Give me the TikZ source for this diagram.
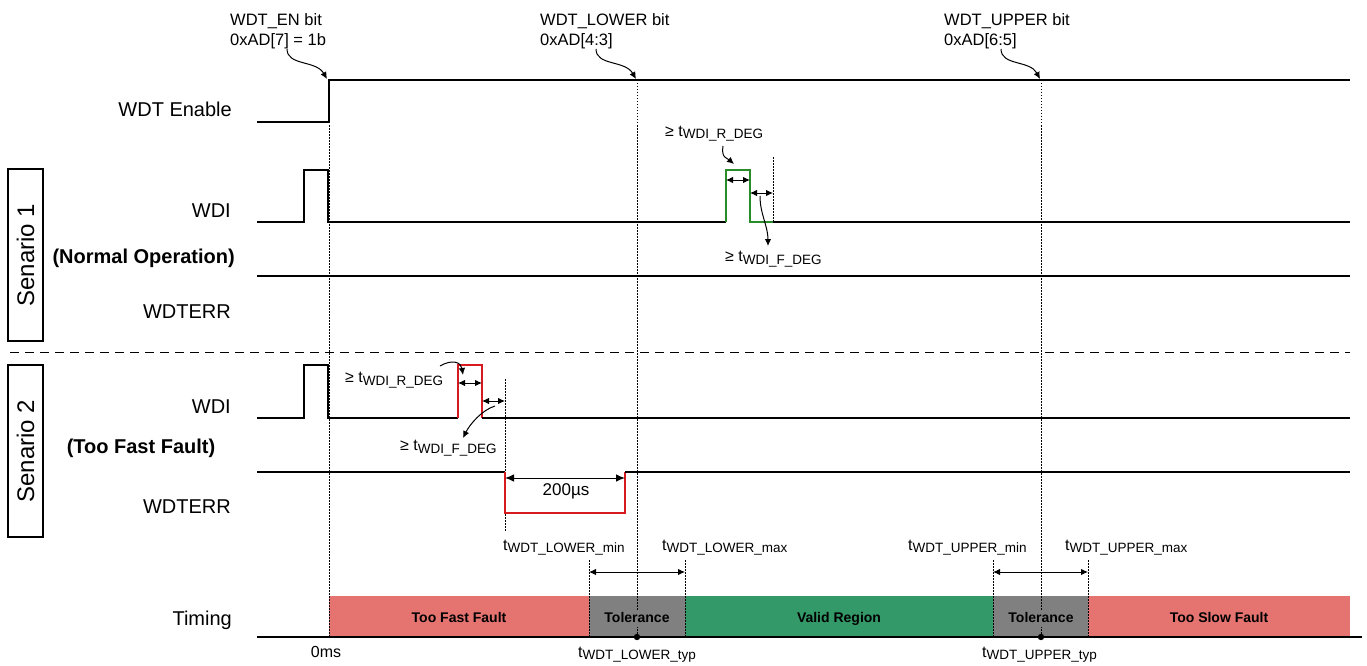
\documentclass[tikz,border=0pt]{standalone}
\usepackage{fontspec}
\setmainfont{Liberation Sans}
\usetikzlibrary{arrows.meta}
\definecolor{fastred}{RGB}{229,115,112}
\definecolor{validgreen}{RGB}{52,153,104}
\definecolor{tolgray}{RGB}{128,128,128}
\definecolor{sigred}{RGB}{215,25,32}
\definecolor{siggreen}{RGB}{40,140,40}
\newcommand\tsub[1]{t\raisebox{-2.5pt}{\fontsize{13.5}{14}\selectfont #1}}
\tikzset{
  sig/.style={line width=1.2pt, line join=miter},
  vdots/.style={line width=0.9pt, dash pattern=on 1.5pt off 1.5pt},
  sepline/.style={line width=1pt, dash pattern=on 9pt off 6pt},
  dimarrow/.style={line width=1pt, {Latex[length=7pt,width=6.5pt]}-{Latex[length=7pt,width=6.5pt]}},
  callout/.style={line width=1pt, -{Latex[length=7pt,width=6.5pt]}},
  sidelbl/.style={font=\fontsize{20}{22}\selectfont, inner sep=0, anchor=east},
  boldlbl/.style={font=\fontsize{20}{22}\selectfont\bfseries, inner sep=0},
  toplbl/.style={font=\fontsize{16.5}{20}\selectfont, inner sep=0, anchor=north west, align=left},
  tlbl/.style={font=\fontsize{16}{18}\selectfont, inner sep=0, anchor=base west},
  barlbl/.style={font=\fontsize{14}{16}\selectfont\bfseries, inner sep=0, text height=10pt, text depth=3pt},
  scenbox/.style={draw, line width=1.2pt, minimum width=172pt, minimum height=35pt, rotate=90, font=\fontsize{24}{26}\selectfont, inner sep=0},
}
\begin{document}
\begin{tikzpicture}[x=1pt,y=-1pt]
\useasboundingbox (0,0) rectangle (1367,666);

% ---------- timing bars ----------
\fill[fastred] (329,596) rectangle (589,637);
\fill[tolgray] (589,596) rectangle (685,637);
\fill[validgreen] (685,596) rectangle (993,637);
\fill[tolgray] (993,596) rectangle (1088,637);
\fill[fastred] (1088,596) rectangle (1350,637);

% ---------- dotted verticals ----------
\coordinate (enrise) at (329,80);
\coordinate (lowtop) at (637,80);
\coordinate (uptop) at (1041,80);
\coordinate (lowtyp) at (637,637);
\coordinate (uptyp) at (1041,637);
\draw[vdots] (enrise) -- (329,637);
\draw[vdots] (lowtop) -- (lowtyp);
\draw[vdots] (uptop) -- (uptyp);
\draw[vdots] (773,157) -- (773,222);
\draw[vdots] (505,379) -- (505,532);
\draw[vdots] (589,560) -- (589,637);
\draw[vdots] (685,560) -- (685,637);
\draw[vdots] (993,560) -- (993,637);
\draw[vdots] (1088,560) -- (1088,637);

% ---------- bar labels ----------
\node[barlbl] (tff) at (459,618.5) {Too Fast Fault};
\node[barlbl, fill=tolgray, inner xsep=3pt, inner ysep=1.5pt] (tol1) at (637,618.5) {Tolerance};
\node[barlbl] (valid) at (839,618.5) {Valid Region};
\node[barlbl, fill=tolgray, inner xsep=3pt, inner ysep=1.5pt] (tol2) at (1041,618.5) {Tolerance};
\node[barlbl] (tsf) at (1219,618.5) {Too Slow Fault};

% ---------- baseline ----------
\draw[sig] (257,637) -- (1362,637);
\fill (lowtyp) circle (3.2);
\fill (uptyp) circle (3.2);

% ---------- WDT Enable ----------
\draw[sig] (257,122) -- (329,122) -- (enrise) -- (1350,80);

% ---------- Scenario 1 ----------
\draw[sig] (257,222) -- (304,222) -- (304,170) -- (328,170) -- (328,222) -- (726,222);
\draw[sig, siggreen] (726,222) -- (726,170) -- (750,170) -- (750,222) -- (773,222);
\draw[sig] (773,222) -- (1350,222);
\draw[sig] (257,276) -- (1350,276);

% separator
\draw[sepline] (10,352) -- (1350,352);

% ---------- Scenario 2 ----------
\draw[sig] (257,418) -- (304,418) -- (304,365) -- (328,365) -- (328,418) -- (458,418);
\draw[sig, sigred] (458,418) -- (458,365) -- (482,365) -- (482,418);
\draw[sig] (482,418) -- (1350,418);
\draw[sig] (257,472) -- (505,472);
\draw[sig, sigred] (505,472) -- (505,513) -- (625,513) -- (625,472);
\draw[sig] (625,472) -- (1350,472);

% ---------- dimension arrows ----------
\coordinate (r1a) at (726,180); \coordinate (r1b) at (750,180);
\coordinate (f1a) at (750,193); \coordinate (f1b) at (773,193);
\draw[dimarrow] (r1a) -- (r1b);
\draw[dimarrow] (f1a) -- (f1b);
\coordinate (r2a) at (458,383); \coordinate (r2b) at (482,383);
\coordinate (f2a) at (482,401); \coordinate (f2b) at (505,401);
\draw[dimarrow] (r2a) -- (r2b);
\draw[dimarrow] (f2a) -- (f2b);
\coordinate (e200a) at (505,478); \coordinate (e200b) at (625,478);
\draw[line width=1pt, {Latex[length=9pt,width=7.5pt]}-{Latex[length=9pt,width=7.5pt]}] (e200a) -- (e200b);
\node[font=\fontsize{17}{19}\selectfont, inner sep=0] (t200) at (566,491) {200µs};
\coordinate (tl1a) at (589,572); \coordinate (tl1b) at (685,572);
\coordinate (tu1a) at (993,572); \coordinate (tu1b) at (1088,572);
\draw[dimarrow] (tl1a) -- (tl1b);
\draw[dimarrow] (tu1a) -- (tu1b);

% ---------- top labels ----------
\node[toplbl] (en) at (230,13) {WDT\_EN bit\\0xAD[7] = 1b};
\node[toplbl] (low) at (540,13) {WDT\_LOWER bit\\0xAD[4:3]};
\node[toplbl] (up) at (944,13) {WDT\_UPPER bit\\0xAD[6:5]};
\coordinate (enS) at (287,49);
\coordinate (lowS) at (596,49);
\coordinate (upS) at (1001,49);
\draw[callout] (enS) .. controls (287,66) and (316,60) .. (327,79);
\draw[callout] (lowS) .. controls (596,66) and (625,60) .. (636,79);
\draw[callout] (upS) .. controls (1001,66) and (1030,60) .. (1040,79);

% ---------- side labels ----------
\node[sidelbl] (wen) at (232,109) {WDT Enable};
\node[sidelbl] (wdi1) at (231,211) {WDI};
\node[boldlbl, anchor=east] (norm) at (235,258) {(Normal Operation)};
\node[sidelbl] (err1) at (231,312) {WDTERR};
\node[sidelbl] (wdi2) at (231,407) {WDI};
\node[boldlbl] (fast) at (141,448) {(Too Fast Fault)};
\node[sidelbl] (err2) at (231,507) {WDTERR};
\node[sidelbl] (tim) at (232,620) {Timing};
\node[scenbox] (s1) at (25.5,255) {Senario 1};
\node[scenbox] (s2) at (25.5,451) {Senario 2};

% ---------- deglitch labels ----------
\node[tlbl] (r1lbl) at (665,136) {≥ \tsub{WDI\_R\_DEG}};
\node[tlbl] (f1lbl) at (725,261.5) {≥ \tsub{WDI\_F\_DEG}};
\node[tlbl] (r2lbl) at (345,382.5) {≥ \tsub{WDI\_R\_DEG}};
\node[tlbl] (f2lbl) at (400,450.5) {≥ \tsub{WDI\_F\_DEG}};
\draw[callout] (723,146) .. controls (721,158) and (727,158) .. (734,164);
\draw[callout] (760,196) .. controls (760,214) and (768,226) .. (768,246);
\draw[callout] (440,366) .. controls (452,359) and (461,362) .. (463,375);
\draw[callout] (495,406) .. controls (482,410) and (470,424) .. (463,438);

% ---------- window labels ----------
\node[tlbl] (lmin) at (503,550) {\tsub{WDT\_LOWER\_min}};
\node[tlbl] (lmax) at (662,550) {\tsub{WDT\_LOWER\_max}};
\node[tlbl] (umin) at (908,550) {\tsub{WDT\_UPPER\_min}};
\node[tlbl] (umax) at (1065,550) {\tsub{WDT\_UPPER\_max}};
\node[tlbl] (ltyp) at (578,657) {\tsub{WDT\_LOWER\_typ}};
\node[tlbl] (utyp) at (982,657) {\tsub{WDT\_UPPER\_typ}};
\node[font=\fontsize{16}{18}\selectfont, inner sep=0] (zero) at (326,652) {0ms};
\end{tikzpicture}
\end{document}
